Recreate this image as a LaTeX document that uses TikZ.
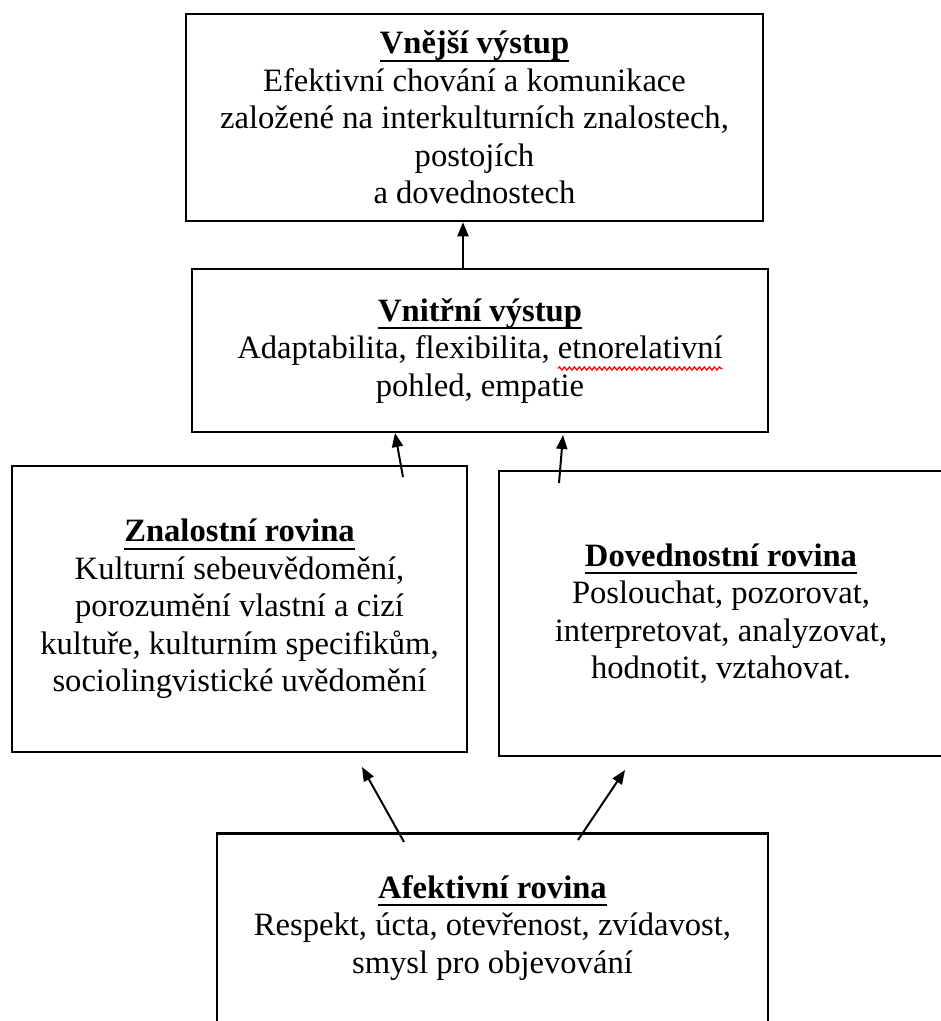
\documentclass[tikz,border=0pt]{standalone}
\usepackage{fontspec}
\setmainfont{Liberation Serif}
\usetikzlibrary{arrows.meta,decorations.pathmorphing,calc}
\newcommand\ttl[1]{\leavevmode\setbox0\hbox{\textbf{#1}}\rlap{\rule[-8pt]{\wd0}{2.2pt}}\box0}
\newlength\wLine
\newlength\wWord
\newlength\wStart
\begin{document}
\settowidth\wLine{\fontsize{32.6}{37.5}\selectfont Adaptabilita, flexibilita, etnorelativní}%
\settowidth\wWord{\fontsize{32.6}{37.5}\selectfont etnorelativní}%
\setlength\wStart{\dimexpr\wLine/2-\wWord\relax}%
\begin{tikzpicture}[x=1pt,y=-1pt,
  box/.style={draw, line width=2.5pt, align=center, font=\fontsize{32.6}{37.5}\selectfont, inner sep=0pt},
  arr/.style={-{Triangle[length=14pt,width=11pt]}, line width=2pt},
  wavy/.style={draw=red, line width=1.2pt, decorate, decoration={snake, amplitude=1.6pt, segment length=5pt}}]
\useasboundingbox (0,0) rectangle (941,1021);
\fill[white] (0,0) rectangle (941,1021);
\clip (0,0) rectangle (941,1021);

\node[box, minimum width=577, minimum height=207] (vnejsi) at (474.5,117.5)
  {\ttl{Vnější výstup}\\Efektivní chování a komunikace\\založené na interkulturních znalostech,\\postojích\\a dovednostech};
\node[box, minimum width=576, minimum height=163] (vnitrni) at (480,350.5)
  {\ttl{Vnitřní výstup}\\Adaptabilita, flexibilita, etnorelativní\\pohled, empatie};
\node[box, minimum width=455, minimum height=286] (znal) at (239.5,609)
  {\ttl{Znalostní rovina}\\Kulturní sebeuvědomění,\\porozumění vlastní a cizí\\kultuře, kulturním specifikům,\\sociolingvistické uvědomění};
\node[box, minimum width=444, minimum height=285] (doved) at (721,613.5)
  {\ttl{Dovednostní rovina}\\Poslouchat, pozorovat,\\interpretovat, analyzovat,\\hodnotit, vztahovat.};
\node[box, minimum width=551, anchor=north, inner ysep=42pt] (afekt) at (492.5,832)
  {\ttl{Afektivní rovina}\\Respekt, úcta, otevřenost, zvídavost,\\smysl pro objevování\\[80pt]\mbox{}};

% spell-check wavy underline under "etnorelativní"
\coordinate (w1) at ([xshift=\wStart, yshift=-18pt]vnitrni.center);
\coordinate (w2) at ([xshift=\wLine/2, yshift=-18pt]vnitrni.center);
\draw[wavy] (w1) -- (w2);

% connectors
\coordinate (a1x) at (463,0);
\draw[arr] (vnitrni.north -| a1x) -- (vnejsi.south -| a1x);
\coordinate (a2t) at (403,477);
\coordinate (a2h) at (395,433);
\draw[arr] (a2t) -- (a2h);
\coordinate (a3t) at (559,483);
\coordinate (a3h) at (563,435);
\draw[arr] (a3t) -- (a3h);
\coordinate (a4t) at (404,842);
\coordinate (a4h) at (362,767);
\draw[arr] (a4t) -- (a4h);
\coordinate (a5t) at (578,840);
\coordinate (a5h) at (625,770);
\draw[arr] (a5t) -- (a5h);
\end{tikzpicture}
\end{document}
